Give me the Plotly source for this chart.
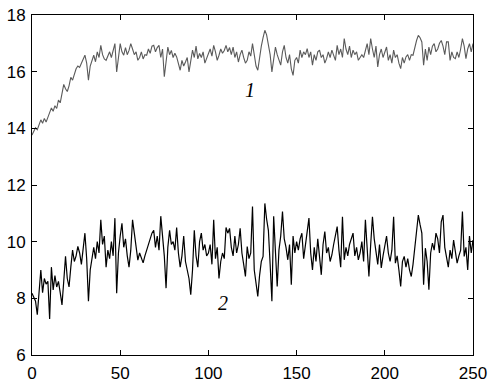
import plotly.graph_objects as go

x_vals = list(range(0, 251))

series1 = [
    13.76, 13.9, 14.02, 13.95, 14.1, 14.3, 14.18, 14.35, 14.22, 14.4,
    14.55, 14.72, 14.6, 14.8, 14.7, 15.0, 14.9, 15.2, 15.55, 15.4,
    15.3, 15.5, 15.8, 15.7, 15.95, 16.1, 16.2, 16.15, 16.3, 16.45,
    16.58, 16.3, 15.7, 16.2, 16.4, 16.58, 16.35, 16.7, 16.5, 16.93,
    16.6, 16.45, 16.4, 16.55, 16.7, 16.5, 16.8, 16.99, 15.99, 16.6,
    16.99, 16.7, 16.58, 16.85, 16.6, 16.75, 16.99, 16.8, 16.6, 16.7,
    16.4, 16.5, 16.7, 16.45, 16.6, 16.58, 16.8, 16.65, 16.9, 16.93,
    16.7, 16.85, 16.93, 16.5, 16.8, 15.82, 16.3, 16.87, 16.6, 16.75,
    16.5, 16.65, 16.52, 16.3, 16.05, 16.4, 16.2, 16.34, 16.5, 15.99,
    16.4, 16.76, 16.5, 16.9, 16.45, 16.64, 16.5, 16.7, 16.3, 16.46,
    16.6, 16.8, 16.55, 16.93, 16.7, 16.4, 16.58, 16.8, 16.65, 16.75,
    16.93, 16.7, 16.85, 16.6, 16.87, 16.5, 16.7, 16.34, 16.6, 16.76,
    16.5, 16.3, 16.4, 16.7, 16.55, 16.99, 16.6, 16.2, 16.05, 16.5,
    16.9, 17.2, 17.46, 17.3, 16.99, 16.6, 15.99, 16.5, 16.87, 16.6,
    16.4, 16.23, 16.7, 16.93, 16.5, 16.3, 16.6, 16.1, 15.87, 16.4,
    16.5, 16.3, 16.76, 16.5, 16.7, 16.6, 16.81, 16.5, 16.7, 16.23,
    16.6, 16.4, 16.7, 16.76, 16.5, 16.6, 16.3, 16.46, 16.7, 16.5,
    16.76, 16.6, 16.4, 16.93, 16.6, 16.8, 16.5, 17.17, 16.8, 16.6,
    16.9, 16.5, 16.76, 16.6, 16.7, 16.4, 16.52, 16.6, 16.5, 16.8,
    16.99, 16.6, 17.17, 16.8, 16.5, 16.9, 16.17, 16.6, 16.8, 16.5,
    16.7, 16.87, 16.4, 16.6, 16.3, 16.76, 16.5, 16.6, 16.3, 16.11,
    16.5, 16.3, 16.52, 16.6, 16.4, 16.6, 16.58, 16.9, 17.1, 17.28,
    17.2, 17.05, 16.23, 16.8, 16.4, 16.87, 16.6, 16.9, 16.99, 16.7,
    16.8, 17.0, 17.1, 16.9, 16.6, 17.05, 17.05, 16.4, 16.7, 16.5,
    16.46, 16.7, 16.5, 16.8, 17.17, 16.9, 16.46, 16.8, 16.99, 16.7,
    16.99,
]

series2 = [
    8.18, 8.0, 7.9, 7.42, 8.3, 9.0, 8.2, 8.7, 8.5, 8.6,
    7.27, 9.1, 8.3, 8.8, 8.4, 8.6, 8.2, 7.77, 8.6, 9.48,
    8.7, 8.4, 9.1, 9.7, 9.3, 9.5, 9.83, 9.6, 9.2, 9.7,
    10.3, 9.4, 7.9, 9.0, 9.5, 9.8, 9.4, 10.0, 9.6, 10.77,
    9.9, 10.2, 9.1, 9.7, 9.4, 10.0, 9.5, 10.83, 8.18, 9.6,
    10.2, 10.65, 9.8, 10.1, 9.5, 9.1, 9.7, 10.77, 10.3, 9.8,
    9.35, 9.6, 9.4, 9.25, 9.5, 9.7, 9.9, 10.1, 10.3, 10.4,
    9.8, 10.2, 9.7, 10.9, 10.2, 9.5, 8.36, 9.8, 10.4, 9.9,
    10.0, 9.7, 10.5, 9.6, 9.1, 9.5, 10.2, 9.3, 9.0, 8.7,
    8.13, 9.0, 10.4, 9.5, 9.1, 10.0, 10.3, 9.7, 9.9, 9.5,
    9.6, 9.9, 9.2, 10.77, 9.4, 9.8, 8.7, 9.3, 9.6, 9.4,
    10.5, 10.3, 10.47, 9.8, 9.5, 10.2, 9.6, 9.9, 10.47, 9.6,
    9.2, 8.77, 9.83, 9.4, 9.6, 11.24, 9.0, 8.6, 8.07, 8.8,
    9.3, 9.48, 11.35, 10.8, 10.4, 9.2, 7.9, 10.9, 9.5, 8.42,
    9.7, 10.2, 11.06, 10.1, 9.8, 9.36, 9.9, 8.48, 10.2, 9.6,
    10.0, 9.7, 10.1, 10.3, 9.4, 9.9, 10.5, 10.83, 9.6, 9.0,
    9.8, 9.3, 10.1, 9.5, 8.83, 9.9, 10.36, 9.6, 9.8, 9.3,
    9.53, 9.9, 10.2, 10.53, 9.7, 9.1, 10.88, 9.36, 9.8, 9.5,
    9.9, 10.1, 10.3, 9.5, 9.8, 9.36, 9.6, 10.0, 9.3, 10.77,
    9.6, 8.77, 9.9, 10.88, 10.1, 9.6, 9.2, 9.9, 9.07, 9.5,
    9.8, 10.2, 9.6, 9.3, 9.7, 10.88, 9.24, 9.5, 9.0, 8.42,
    9.3, 9.48, 9.1, 9.4, 9.0, 8.77, 9.2, 9.83, 10.5, 10.94,
    10.6, 10.3, 8.48, 9.77, 9.3, 8.3, 9.6, 9.95, 9.7, 10.3,
    10.1, 9.6, 10.7, 10.94, 9.8, 9.5, 9.1, 9.7, 9.4, 10.06,
    9.6, 9.24, 9.5, 9.7, 11.06, 9.48, 9.8, 9.0, 10.2, 9.6,
    10.06,
]

x_ticks = [0, 50, 100, 150, 200, 250]
y_ticks = [6, 8, 10, 12, 14, 16, 18]
curve_labels = ["1", "2"]
label_x = [123.6, 108.3]
label_y = [15.35, 7.83]

fig = go.Figure()
fig.add_trace(go.Scatter(x=x_vals, y=series1, mode="lines",
                         line=dict(color="#5a5a5a", width=1.1), showlegend=False))
fig.add_trace(go.Scatter(x=x_vals, y=series2, mode="lines",
                         line=dict(color="#000000", width=1.2), showlegend=False))

for t, lx, ly in zip(curve_labels, label_x, label_y):
    fig.add_annotation(x=lx, y=ly, text="<i>%s</i>" % t, showarrow=False,
                       font=dict(family="Liberation Serif", size=20, color="#000"))

axis_common = dict(showgrid=False, zeroline=False, showline=True, linecolor="#000",
                   linewidth=1, mirror="ticks", ticks="inside", ticklen=5,
                   tickcolor="#000", automargin=False,
                   tickfont=dict(family="Liberation Sans, Arial", size=17, color="#000"))

fig.update_xaxes(range=[0, 250], tickvals=x_ticks, ticktext=[str(v) for v in x_ticks],
                 ticklabelstandoff=3, **axis_common)
fig.update_yaxes(range=[6, 18], tickvals=y_ticks, ticktext=[str(v) for v in y_ticks],
                 ticklabelstandoff=2, **axis_common)

fig.update_layout(width=490, height=385, margin=dict(l=32, r=17, t=15, b=30),
                  plot_bgcolor="white", paper_bgcolor="white")

fig.write_html("out.html", config={"displayModeBar": False},
               post_script="document.body.style.margin='0';document.body.style.overflow='hidden';")
